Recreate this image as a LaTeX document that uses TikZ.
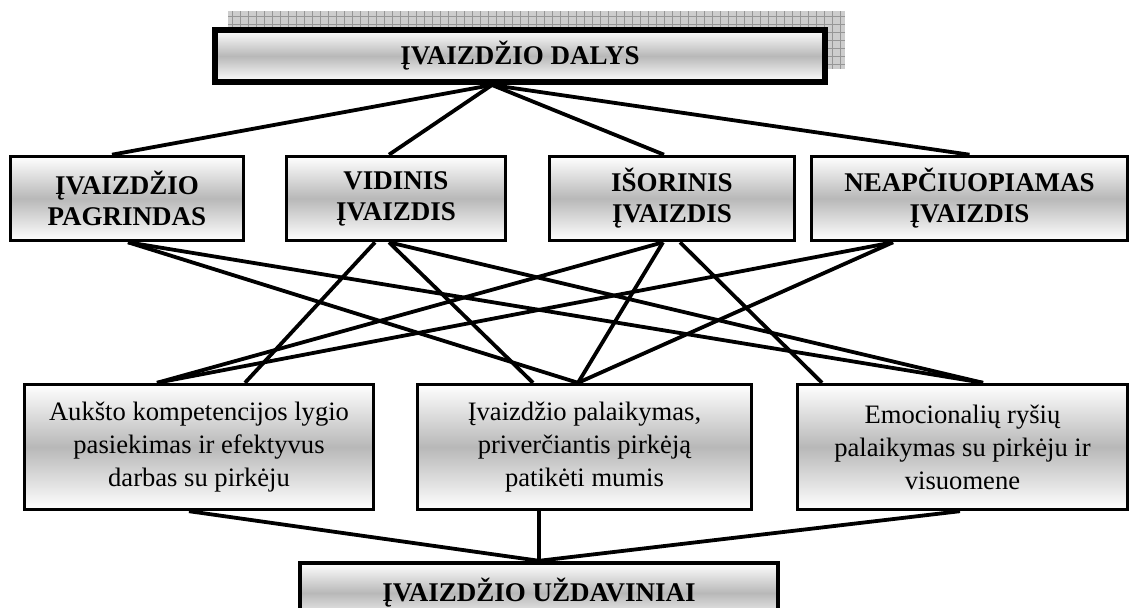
\documentclass[tikz,border=0pt]{standalone}
\usepackage{fontspec}
\setmainfont{Liberation Serif}
\definecolor{boxmid}{RGB}{184, 184, 184}
\definecolor{shadowfill}{RGB}{205, 205, 205}
\definecolor{shadowgrid}{RGB}{150, 150, 150}
\usetikzlibrary{calc}

\tikzset{
    shaded/.style={top color=white, bottom color=white, middle color=boxmid},
    headbox/.style={shaded, draw, line width=3pt, inner sep=0pt,
        font=\bfseries\fontsize{13.5}{16}\selectfont},
    partbox/.style={shaded, draw, line width=1.8pt, inner sep=0pt, align=center,
        minimum height=42pt, font=\bfseries\fontsize{13.5}{15.5}\selectfont},
    taskbox/.style={shaded, draw, line width=1.7pt, inner sep=0pt, align=center,
        minimum height=62.5pt, font=\fontsize{13.3}{16.5}\selectfont},
    link/.style={line width=1.9pt},
}

\begin{document}
\begin{tikzpicture}[x=0.5pt, y=-0.5pt]
    \useasboundingbox (0,0) rectangle (1130,608);

    % grid shadow behind the title
    \fill[shadowfill] (228,11) rectangle (845,69);
    \draw[shadowgrid, line width=0.3pt, step=4pt] (228,11) grid (845,69);

    \node[headbox, minimum width=305pt, minimum height=26pt] (dalys) at (520,56) {ĮVAIZDŽIO DALYS};

    \node[partbox, minimum width=116.5pt] (pagrindas) at (127,198.5) {ĮVAIZDŽIO\\PAGRINDAS};
    \node[partbox, minimum width=109.5pt] (vidinis) at (396,198.5) {VIDINIS\\ĮVAIZDIS};
    \node[partbox, minimum width=122.5pt] (isorinis) at (672,198.5) {IŠORINIS\\ĮVAIZDIS};
    \node[partbox, minimum width=158pt] (neapc) at (969.5,198.5) {NEAPČIUOPIAMAS\\ĮVAIZDIS};

    \node[taskbox, minimum width=174.5pt] (kompet) at (199,447) {Aukšto kompetencijos lygio\\pasiekimas ir efektyvus\\darbas su pirkėju};
    \node[taskbox, minimum width=167pt] (palaik) at (584.5,447) {Įvaizdžio palaikymas,\\priverčiantis pirkėją\\patikėti mumis};
    \node[taskbox, minimum width=165pt] (emoc) at (962.5,447) {Emocionalių ryšių\\palaikymas su pirkėju ir\\visuomene};

    \node[headbox, line width=2.2pt, minimum width=239pt, minimum height=30pt] (uzdav) at (539,593) {ĮVAIZDŽIO UŽDAVINIAI};

    % title to the parts
    \coordinate (fan) at ($(dalys.south)+(-28,0)$);
    \draw[link] (fan) -- ($(pagrindas.north)+(-15,0)$);
    \draw[link] (fan) -- ($(vidinis.north)+(-7,0)$);
    \draw[link] (fan) -- ($(isorinis.north)+(-8,0)$);
    \draw[link] (fan) -- (neapc.north);

    % parts to the tasks
    \draw[link] ($(pagrindas.south)+(1,0)$) -- ($(palaik.north)+(-6.5,0)$);
    \draw[link] ($(pagrindas.south)+(1,0)$) -- ($(emoc.north)+(20.5,0)$);
    \draw[link] ($(vidinis.south)+(-21,0)$) -- ($(kompet.north)+(46,0)$);
    \draw[link] ($(vidinis.south)+(-7,0)$) -- ($(palaik.north)+(-51.5,0)$);
    \draw[link] ($(vidinis.south)+(-7,0)$) -- ($(emoc.north)+(20.5,0)$);
    \draw[link] ($(isorinis.south)+(-9,0)$) -- ($(kompet.north)+(-42,0)$);
    \draw[link] ($(isorinis.south)+(-9,0)$) -- ($(palaik.north)+(-6.5,0)$);
    \draw[link] ($(isorinis.south)+(8,0)$) -- ($(emoc.north)+(-140.5,0)$);
    \draw[link] ($(neapc.south)+(-76.5,0)$) -- ($(kompet.north)+(-42,0)$);
    \draw[link] ($(neapc.south)+(-76.5,0)$) -- ($(palaik.north)+(-6.5,0)$);

    % tasks to the bottom box
    \draw[link] ($(kompet.south)+(-10,0)$) -- (uzdav.north);
    \draw[link] ($(palaik.south)+(-45.5,0)$) -- (uzdav.north);
    \draw[link] ($(emoc.south)+(-2.5,0)$) -- (uzdav.north);
\end{tikzpicture}
\end{document}
